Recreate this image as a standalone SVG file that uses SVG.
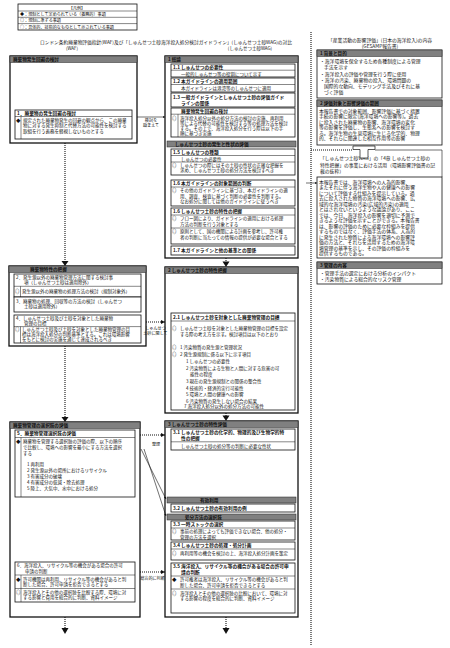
<svg xmlns="http://www.w3.org/2000/svg" width="450" height="648" viewBox="0 0 450 648">
<style>
text{font-family:"Noto Sans CJK JP","Noto Sans",sans-serif;fill:#111}
.t{font-size:4.5px}
.s{font-size:4.1px}
.r{font-size:4.8px}
.ti{font-size:4.7px;font-weight:bold}
.hb{font-size:4.6px;font-weight:bold;fill:#111}
.box{fill:#fff;stroke:#111;stroke-width:0.8}
.outer{fill:#fff;stroke:#111;stroke-width:1.3}
.bar{fill:#808080;stroke:#222;stroke-width:0.5}
.ln{stroke:#111;stroke-width:0.5;fill:none}
.dot{stroke:#111;stroke-width:1.1;stroke-dasharray:1 1;fill:none}
.con{stroke:#111;stroke-width:0.6;fill:none}
</style>
<defs>
<marker id="ah" viewBox="0 0 6 6" refX="6" refY="3" markerWidth="4" markerHeight="4" orient="auto"><path d="M0,0 L6,3 L0,6 z" fill="#111"/></marker>
</defs>
<rect width="450" height="648" fill="#fff"/>

<g id="legend">
<rect x="18" y="4" width="119" height="26" class="box"/>
<line x1="18" y1="11" x2="137" y2="11" class="ln"/>
<line x1="18" y1="17.3" x2="137" y2="17.3" class="ln"/>
<line x1="18" y1="23.6" x2="137" y2="23.6" class="ln"/>
<text x="77" y="9.6" class="s" text-anchor="middle">【凡例】</text>
<text x="20" y="15.9" class="s">◆：規制として定められている（義務的）事項</text>
<text x="20" y="22.2" class="s">◎：規制に準ずる事項</text>
<text x="20" y="28.5" class="s">○：具体的、技術的なものとして示されている事項</text>
</g>

<g id="title">
<text x="166" y="43.5" class="t" text-anchor="middle" textLength="252" lengthAdjust="spacingAndGlyphs">ロンドン条約廃棄物評価指針(WAF)及び「しゅんせつ土砂海洋投入処分検討ガイドライン」(しゅんせつ土砂WAG)の対比</text>
<text x="72" y="50" class="t" text-anchor="middle">(WAF)</text>
<text x="250" y="50" class="t" text-anchor="middle">(しゅんせつ土砂WAG)</text>
</g>

<g id="waf-1">
<rect x="10" y="56" width="127" height="87" class="outer"/>
<rect x="10" y="56" width="127" height="6.5" class="bar"/>
<text x="13" y="61" class="hb">廃棄物発生回避の検討</text>
<rect x="15" y="110" width="117" height="29" class="box"/>
<line x1="15" y1="116.5" x2="132" y2="116.5" class="ln"/>
<line x1="21" y1="116.5" x2="21" y2="139" class="ln"/>
<text x="17" y="115" class="ti">1．廃棄物の発生回避の検討</text>
<text x="16" y="121.5" class="t">◆</text>
<text x="23" y="121.5" class="t">規定された廃棄物発生の回避の観点から、この廃棄</text>
<text x="23" y="127" class="t">物に対する発生抑制と代替方法の可能性を検討する</text>
<text x="23" y="132.5" class="t">取組を行う義務を軽視しないものとする</text>
</g>

<g id="waf-2">
<rect x="9" y="266" width="137" height="80" class="outer"/>
<rect x="9" y="266" width="137" height="6.5" class="bar"/>
<text x="30" y="271" class="hb">廃棄物特性の把握</text>
<rect x="14" y="274" width="127" height="23" class="box"/>
<text x="16" y="279" class="t">2．発生源以外の廃棄物管理方法に関する検討事</text>
<text x="24" y="284.3" class="t">項（しゅんせつ土砂は適用除外）</text>
<line x1="14" y1="286.3" x2="141" y2="286.3" class="ln"/>
<line x1="20.5" y1="286.3" x2="20.5" y2="297" class="ln"/>
<text x="15" y="292.5" class="t">◎</text>
<text x="22" y="292.5" class="t">発生源以外の廃棄物の処理方法の検討（規制対象外）</text>
<rect x="14" y="297" width="127" height="15" class="box"/>
<text x="16" y="302.5" class="t">3．廃棄物の処理、回収等の方法の検討（しゅんせつ</text>
<text x="24" y="308.3" class="t">土砂は適用除外）</text>
<rect x="14" y="315" width="127" height="28" class="box"/>
<text x="16" y="319.8" class="t">4．しゅんせつ土砂及び土砂を対象とした廃棄物</text>
<text x="24" y="324.9" class="t">管理の目標</text>
<line x1="14" y1="326.6" x2="141" y2="326.6" class="ln"/>
<line x1="20.5" y1="326.6" x2="20.5" y2="343" class="ln"/>
<text x="15" y="331" class="t">◎</text>
<text x="22" y="331" class="t">しゅんせつ土砂及び土砂を対象とした廃棄物管理の目</text>
<text x="22" y="336" class="t">標は海洋投入処分の判断基準とする。これは環境影響</text>
<text x="22" y="341" class="t">をもとに検討の実施を通じて達成されるべき</text>
</g>

<g id="waf-3">
<rect x="10" y="422" width="130" height="195" class="outer"/>
<rect x="10" y="422" width="130" height="6.5" class="bar"/>
<text x="13" y="427" class="hb">廃棄物管理の選択肢の評価</text>
<rect x="15" y="430" width="120" height="67" class="box"/>
<text x="17" y="435" class="ti">5．廃棄物管理選択肢の評価</text>
<line x1="15" y1="437.5" x2="135" y2="437.5" class="ln"/>
<line x1="21" y1="437.5" x2="21" y2="497" class="ln"/>
<text x="16" y="443" class="t">◆</text>
<text x="23" y="443" class="t">廃棄物を管理する選択肢の評価の際、以下の順序</text>
<text x="23" y="449" class="t">で比較し、環境への影響を最小にする方法を選択</text>
<text x="23" y="455" class="t">する</text>
<text x="27" y="466" class="t">1 再利用</text>
<text x="27" y="472" class="t">2 発生源以外の場所におけるリサイクル</text>
<text x="27" y="478" class="t">3 有害成分の破壊</text>
<text x="27" y="484" class="t">4 有害成分の低減・除去処理</text>
<text x="27" y="490" class="t">5 陸上、大気中、水中における処分</text>
<rect x="15" y="562" width="120" height="40" class="box"/>
<text x="17" y="567" class="t">6．海洋投入、リサイクル等の機会がある場合の許可</text>
<text x="25" y="572.5" class="t">申請の判断</text>
<line x1="15" y1="575" x2="135" y2="575" class="ln"/>
<line x1="21" y1="575" x2="21" y2="602" class="ln"/>
<line x1="15" y1="588.5" x2="135" y2="588.5" class="ln"/>
<text x="16" y="580.5" class="t">◆</text>
<text x="23" y="580.5" class="t">許可機関は再利用、リサイクル等の機会があると判</text>
<text x="23" y="586" class="t">断した場合、許可申請を拒否できるとする</text>
<text x="16" y="593.7" class="t">◎</text>
<text x="23" y="593.7" class="t">海洋投入とその他の選択肢を比較する際、環境に対</text>
<text x="23" y="599.2" class="t">する影響と費用を総合的に判断、資料イメージ</text>
</g>

<g id="wag-1">
<rect x="165" y="56" width="133" height="202" class="outer"/>
<rect x="165" y="56" width="133" height="6.5" class="bar"/>
<text x="168" y="61" class="hb">1 総論</text>
<rect x="171" y="64" width="124" height="13" class="box"/>
<line x1="171" y1="70.2" x2="295" y2="70.2" class="ln"/>
<text x="173" y="68.8" class="ti">1.1 しゅんせつの必要性</text>
<text x="181" y="75.5" class="t">一般的しゅんせつ等の役割について示す</text>
<rect x="171" y="78" width="124" height="14" class="box"/>
<line x1="171" y1="84.5" x2="295" y2="84.5" class="ln"/>
<text x="173" y="83" class="ti">1.2 本ガイドラインの適用範囲</text>
<text x="181" y="90.3" class="t">本ガイドラインは港湾等のしゅんせつに適用</text>
<rect x="171" y="93" width="124" height="14" class="box"/>
<text x="173" y="98.5" class="ti">1.3 一般ガイドラインとしゅんせつ土砂の評価ガイド</text>
<text x="181" y="104.5" class="ti">ラインの関係</text>
<rect x="171" y="108" width="124" height="29" class="box"/>
<line x1="171" y1="114.2" x2="295" y2="114.2" class="ln"/>
<line x1="178" y1="114.2" x2="178" y2="137" class="ln"/>
<text x="181" y="112.8" class="ti">廃棄物発生回避の検討</text>
<text x="172" y="119.5" class="t">◎</text>
<text x="180" y="119.5" class="t">海洋投入処分以外の処分方法の検討の実施、再利用</text>
<text x="180" y="124.8" class="t">等による代替の可能性を検討する等の処理方法を検討</text>
<text x="180" y="130.1" class="t">する。その上で、海洋投入処分を行う際は以下の手</text>
<text x="180" y="135.4" class="t">順に基づき実施</text>
<rect x="167" y="141" width="129" height="6" class="bar"/>
<text x="175" y="145.6" class="hb">しゅんせつ土砂の発生と性状の評価</text>
<rect x="171" y="149" width="124" height="26" class="box"/>
<line x1="171" y1="155.5" x2="295" y2="155.5" class="ln"/>
<line x1="171" y1="162" x2="295" y2="162" class="ln"/>
<text x="173" y="154" class="ti">1.5 しゅんせつの種類</text>
<text x="181" y="160.5" class="t">しゅんせつの必要性</text>
<text x="172" y="167" class="t">◎</text>
<text x="180" y="167" class="t">しゅんせつの際にはその土砂の性状の正確な把握を</text>
<text x="180" y="172.3" class="t">求め、しゅんせつ土砂の処分方法を検討すべき</text>
<rect x="171" y="180" width="124" height="26" class="box"/>
<line x1="171" y1="187" x2="295" y2="187" class="ln"/>
<text x="173" y="185.3" class="ti">1.6 本ガイドラインの対象範囲の判断</text>
<text x="172" y="192.3" class="t">◎</text>
<text x="180" y="192.3" class="t">その他のガイドラインに基づき、本ガイドラインの適</text>
<text x="180" y="197.6" class="t">用、調査、検査に基づく判断の必要性を判断する。</text>
<text x="180" y="202.9" class="t">なお処分に関しては他のガイドラインに従うべき</text>
<rect x="171" y="208" width="124" height="36" class="box"/>
<line x1="171" y1="215" x2="295" y2="215" class="ln"/>
<line x1="171" y1="228" x2="295" y2="228" class="ln"/>
<text x="173" y="213.3" class="ti">1.6 しゅんせつ土砂の特性の把握</text>
<text x="172" y="220.3" class="t">◎</text>
<text x="180" y="220.3" class="t">フロー図により、ガイドラインの適用における処理</text>
<text x="180" y="225.6" class="t">方法の判断を行う対象とする</text>
<text x="172" y="233.3" class="t">◎</text>
<text x="180" y="233.3" class="t">原則として、国の機関による計画を参考し、許可権</text>
<text x="180" y="238.6" class="t">者の判断に当たっての情報の提供が必要な場合とする</text>
<rect x="171" y="246" width="124" height="9" class="box"/>
<text x="173" y="252" class="ti">1.7 本ガイドラインと他の基準との関係</text>
</g>

<g id="wag-2">
<rect x="165" y="267" width="133" height="146" class="outer"/>
<rect x="165" y="267" width="133" height="6.5" class="bar"/>
<text x="168" y="272" class="hb">2 しゅんせつ土砂の特性把握</text>
<rect x="171" y="313" width="124" height="97" class="box"/>
<line x1="171" y1="321" x2="295" y2="321" class="ln"/>
<text x="173" y="318.8" class="ti">2.1 しゅんせつ土砂を対象とした廃棄物管理の目標</text>
<text x="172" y="330" class="t">◎</text>
<text x="180" y="330" class="t">しゅんせつ土砂を対象とした廃棄物管理の目標を設定</text>
<text x="180" y="335.5" class="t">する際の考え方を示す。検討項目は以下のとおり</text>
<text x="172" y="349" class="t">◎</text>
<text x="180" y="349" class="t">1 汚染物質の発生源と管理状況</text>
<text x="172" y="355.5" class="t">◎</text>
<text x="180" y="355.5" class="t">2 発生源規制に係る以下に示す項目</text>
<text x="186" y="363" class="t">1 しゅんせつの必要性</text>
<text x="186" y="370" class="t">2 汚染物質による生物と人間に対する危害の可</text>
<text x="190" y="375.5" class="t">能性の程度</text>
<text x="186" y="383" class="t">3 現在の発生源規制との関係の整合性</text>
<text x="186" y="389.5" class="t">4 技術的・経済的実行可能性</text>
<text x="186" y="396" class="t">5 環境と人間の健康への影響</text>
<text x="186" y="402.5" class="t">6 汚染物質の発生しない場合の結果</text>
<text x="184" y="408.3" class="t">7 海洋投入処分以外の処分方法の可能性</text>
</g>

<g id="wag-3">
<rect x="165" y="421" width="133" height="196" class="outer"/>
<rect x="165" y="421" width="133" height="6.5" class="bar"/>
<text x="168" y="426" class="hb">3 しゅんせつ土砂の特性評価</text>
<rect x="171" y="429" width="124" height="21" class="box"/>
<line x1="171" y1="441.8" x2="295" y2="441.8" class="ln"/>
<text x="173" y="434" class="ti">3.1 しゅんせつ土砂の化学的、物理的及び生物学的特</text>
<text x="181" y="439.8" class="ti">性の把握</text>
<text x="181" y="447.5" class="t">しゅんせつ土砂の処分等の判断に必要な性状</text>
<rect x="167" y="497" width="129" height="6" class="bar"/>
<text x="200" y="501.6" class="hb">有効利用</text>
<rect x="171" y="504" width="124" height="8" class="box"/>
<text x="173" y="509.6" class="ti">3.2 しゅんせつ土砂の有効利用の例</text>
<rect x="167" y="514" width="129" height="6" class="bar"/>
<text x="185" y="518.6" class="hb">処分方法の選択肢</text>
<rect x="171" y="521" width="124" height="19" class="box"/>
<line x1="171" y1="528" x2="295" y2="528" class="ln"/>
<text x="173" y="526.3" class="ti">3.3 一時ストックの選択</text>
<text x="172" y="533.3" class="t">◎</text>
<text x="180" y="533.3" class="t">事前の処理によっても評価できない場合、他の処分・</text>
<text x="180" y="538.5" class="t">管理の方法を選択</text>
<rect x="171" y="542" width="124" height="18" class="box"/>
<line x1="171" y1="549" x2="295" y2="549" class="ln"/>
<text x="173" y="547.3" class="ti">3.4 しゅんせつ土砂の処理・処分計画</text>
<text x="172" y="554.8" class="t">◎</text>
<text x="180" y="554.8" class="t">再利用等の機会を検討の上、海洋投入処分計画を策定</text>
<rect x="171" y="563" width="124" height="50" class="box"/>
<line x1="171" y1="576" x2="295" y2="576" class="ln"/>
<line x1="171" y1="589" x2="295" y2="589" class="ln"/>
<text x="173" y="568" class="ti">3.5 海洋投入、リサイクル等の機会がある場合の許可申</text>
<text x="181" y="573.7" class="ti">請の判断</text>
<text x="172" y="581.3" class="t">◆</text>
<text x="180" y="581.3" class="t">許可権者は海洋投入、リサイクル等の機会があると判</text>
<text x="180" y="586.6" class="t">断した場合、許可申請を拒否できるとする</text>
<text x="172" y="594.5" class="t">◎</text>
<text x="180" y="594.5" class="t">海洋投入とその他の選択肢の比較において、環境に対</text>
<text x="180" y="599.8" class="t">する影響の程度を総合的に判断、資料イメージ</text>
</g>

<g id="gesamp-title">
<text x="380" y="42" class="r" text-anchor="middle">「産業活動の影響評価」(日本の海洋投入)の内容</text>
<text x="380" y="48.3" class="r" text-anchor="middle">(GESAMP報告書)</text>
</g>

<g id="gesamp-1">
<rect x="317" y="50" width="125" height="48" class="box"/>
<rect x="317" y="50" width="125" height="6.5" class="bar"/>
<text x="320" y="55" class="hb">1 背景と目的</text>
<text x="320" y="63" class="r">・海洋環境を保全するため各種制度による管理</text>
<text x="324" y="68.5" class="r">手法を示す</text>
<text x="320" y="76" class="r">・海洋投入の評価や管理を行う際に使用</text>
<text x="320" y="82" class="r">・海洋の汚染、廃棄物の投入、環境問題の</text>
<text x="324" y="88" class="r">国際的な動向、モデリング手法及びそれに基</text>
<text x="324" y="94" class="r">づく評価</text>
</g>

<g id="gesamp-2">
<rect x="317" y="100" width="125" height="45" class="box"/>
<rect x="317" y="100" width="125" height="6.5" class="bar"/>
<text x="320" y="105" class="hb">2 評価対象と影響評価の範囲</text>
<text x="319" y="112.5" class="r">本報告書での対象範囲、影響評価に基づく措置</text>
<text x="319" y="118" class="r">手続の影響に限定(海洋環境への影響等)。過去</text>
<text x="319" y="123.5" class="r">に投入された廃棄物の影響、海洋環境の変化</text>
<text x="319" y="129" class="r">等の影響を評価し、生態系への影響を検討す</text>
<text x="319" y="134.5" class="r">る。海洋生物の生息環境に生じる化学的、物理</text>
<text x="319" y="140" class="r">的、それらに関連した相互作用等の影響</text>
</g>

<g id="gesamp-3">
<text x="320" y="160" class="r">「しゅんせつ土砂WAG」の「4章 しゅんせつ土砂の</text>
<text x="320" y="166.5" class="r">特性把握」の事業における活用（環境影響評価書の記</text>
<text x="320" y="173" class="r">載の抜粋）</text>
<rect x="317" y="177" width="125" height="81" class="box"/>
<text x="319" y="183.5" class="r">本報告書では、海洋環境への人為的影響、</text>
<text x="319" y="189" class="r">またそれに伴う海洋生物や人の健康への影響</text>
<text x="319" y="194.5" class="r">について評価する仕組みを提示している。過</text>
<text x="319" y="200" class="r">去に投入された物質の海洋環境への影響、広</text>
<text x="319" y="205.5" class="r">域的な海洋環境の汚染(広域的汚染)の適用</text>
<text x="319" y="211" class="r">とはされないというような議論があり、ここ</text>
<text x="319" y="216.5" class="r">では、今日、海洋投入の影響を適切に予測で</text>
<text x="319" y="222" class="r">きるような評価を示すことができる。本報告書</text>
<text x="319" y="227.5" class="r">は、影響の評価のために必要な枠組みを提供</text>
<text x="319" y="233" class="r">するものではなく、評価手法の体系、人為的</text>
<text x="319" y="238.5" class="r">に発生された物質による海洋環境への影響評</text>
<text x="319" y="244" class="r">価の方法と、それらを活用するための海洋環</text>
<text x="319" y="249.5" class="r">境管理の基準を示し、その評価の枠組みを</text>
<text x="319" y="255" class="r">提供するものである。</text>
</g>

<g id="gesamp-4">
<rect x="317" y="262" width="125" height="22" class="box"/>
<rect x="317" y="262" width="125" height="6.5" class="bar"/>
<text x="320" y="267" class="hb">3 管理の内容</text>
<text x="320" y="275" class="r">・管理手法の選定における分析のインパクト</text>
<text x="320" y="281" class="r">・汚染物質による総合的なリスク管理</text>
</g>

<g id="connectors">
<line x1="137" y1="117" x2="165" y2="117" class="con" marker-end="url(#ah)"/>
<text x="151" y="122" class="s" text-anchor="middle">検討を</text>
<text x="151" y="126.5" class="s" text-anchor="middle">踏まえて</text>
<line x1="65" y1="143" x2="65" y2="262" class="dot"/>
<path d="M61.5,261 L68.5,261 L65,266 z" fill="#111"/>
<line x1="65" y1="346" x2="65" y2="417" class="dot"/>
<path d="M61.5,417 L68.5,417 L65,422 z" fill="#111"/>
<line x1="65" y1="617" x2="65" y2="628" class="dot"/>
<path d="M61.5,628 L68.5,628 L65,634 z" fill="#111"/>
<line x1="226" y1="258" x2="226" y2="262" class="dot"/>
<path d="M222.5,261.5 L229.5,261.5 L226,267 z" fill="#111"/>
<line x1="226" y1="413" x2="226" y2="416" class="dot"/>
<path d="M222.5,415.5 L229.5,415.5 L226,421 z" fill="#111"/>
<line x1="226" y1="617" x2="226" y2="628" class="dot"/>
<path d="M222.5,628 L229.5,628 L226,634 z" fill="#111"/>
<line x1="146" y1="322" x2="165" y2="322" class="dot" marker-end="url(#ah)"/>
<text x="155.5" y="330" class="s" text-anchor="middle">しゅんせつ</text>
<text x="155.5" y="334.5" class="s" text-anchor="middle">土砂に関して</text>
<line x1="140" y1="435" x2="165" y2="435" class="dot" marker-end="url(#ah)"/>
<text x="156" y="446" class="s" text-anchor="middle">整理</text>
<line x1="141" y1="449" x2="166" y2="499" class="con" marker-end="url(#ah)"/>
<line x1="144" y1="449" x2="166" y2="516" class="con" marker-end="url(#ah)"/>
<line x1="140" y1="572" x2="165" y2="572" class="dot" marker-end="url(#ah)"/>
<text x="152.5" y="580" class="s" text-anchor="middle">総合的に判断</text>
<line x1="311" y1="32" x2="311" y2="645" class="dot"/>
<line x1="311" y1="150" x2="353" y2="150" class="dot"/>
<path d="M353,146 L375,146 L375,149.5 L368,149.5 L368,158 L360,158 L360,149.5 L353,149.5 z" fill="#fff" stroke="#111" stroke-width="0.7"/>
<polyline points="375,150 442,150 442,177" class="con"/>
<line x1="306" y1="183" x2="317" y2="183" class="con" marker-end="url(#ah)"/>
</g>
</svg>
